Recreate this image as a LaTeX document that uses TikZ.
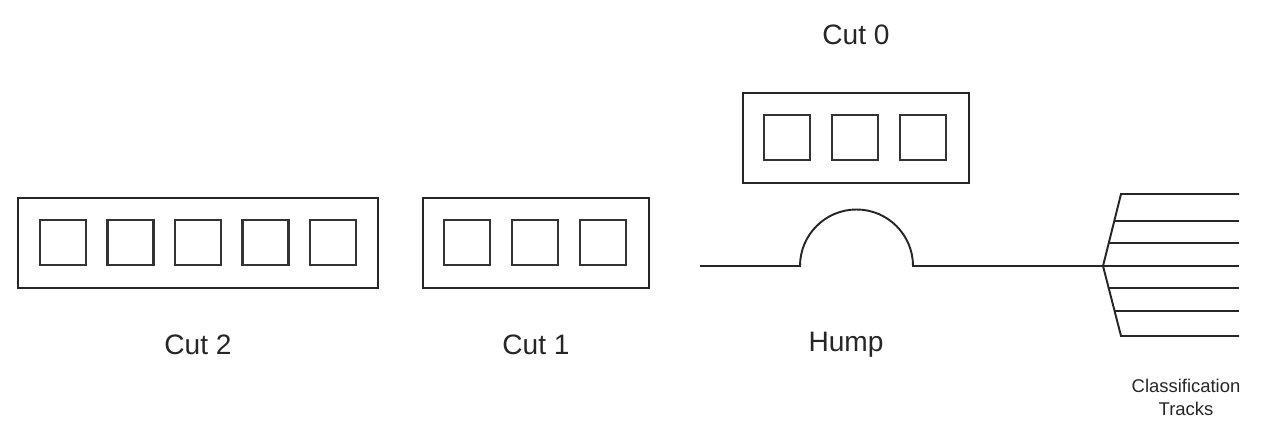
\documentclass[tikz,border=0pt]{standalone}
\usepackage{fontspec}
\setmainfont{Liberation Sans}
\usetikzlibrary{calc}
\tikzset{
    cut/.style={draw=black!85, line width=1.1pt},
    car/.style={draw=black!80, line width=1.3pt},
    track/.style={draw=black!85, line width=1.1pt},
    label/.style={font=\fontsize{16}{18}\selectfont, text=black!85}
}
\begin{document}
\begin{tikzpicture}[x=0.02cm, y=-0.02cm]
    \useasboundingbox (0,0) rectangle (1263,428);

    % cut 2
    \draw[cut] (18,198) rectangle (378,288);
    \foreach \i in {0,...,4}
        \draw[car] ({40+67.5*\i},220) rectangle ++(46,45);
    \node[label] (cut2) at (198,345) {Cut 2};

    % cut 1
    \draw[cut] (423,198) rectangle (649,288);
    \foreach \i in {0,...,2}
        \draw[car] ({444+68*\i},220) rectangle ++(46,45);
    \node[label] (cut1) at (536,345) {Cut 1};

    % cut 0
    \draw[cut] (743,93) rectangle (969,183);
    \foreach \i in {0,...,2}
        \draw[car] ({764+68*\i},115) rectangle ++(46,45);
    \node[label] (cut0) at (856,35) {Cut 0};

    % hump
    \draw[track] (700,266) -- (800,266) arc[start angle=180, end angle=360, radius=56.5] -- (1103,266);
    \node[label] (hump) at (846,345) {Hump};

    % classification tracks
    \coordinate (fork) at (1103,266);
    \draw[track] (1239,194) -- (1121,194) -- (fork) -- (1121,336) -- (1239,336);
    \foreach \y/\x in {221/1115, 243/1109, 266/1103, 288/1109, 311/1115}
        \draw[track] (\x,\y) -- (1239,\y);
    \node[font=\fontsize{10.5}{13}\selectfont, text=black!85, align=center] (tracks) at (1186,397) {Classification\\Tracks};
\end{tikzpicture}
\end{document}
